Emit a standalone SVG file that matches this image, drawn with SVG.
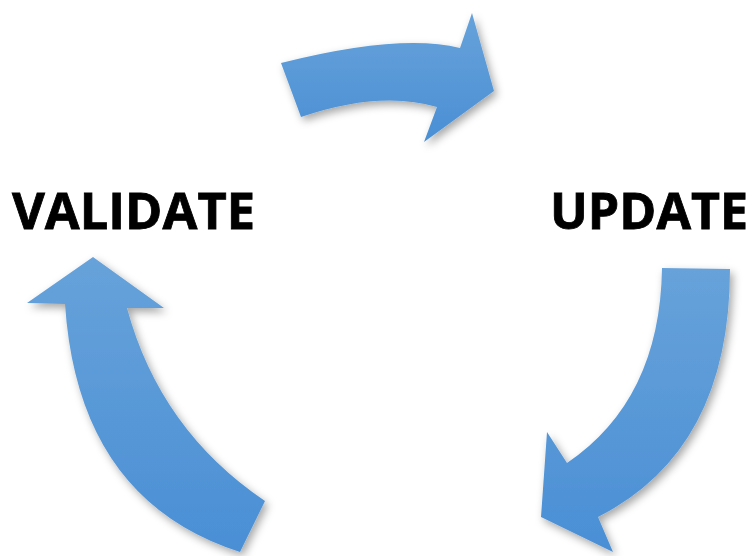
<svg xmlns="http://www.w3.org/2000/svg" width="755" height="556" viewBox="0 0 755 556">
  <style>
    .lbl { font-family: "Open Sans", "Liberation Sans", sans-serif; font-weight: 700; font-size: 51px; fill: #000; stroke: #000; stroke-width: 0.8; }
    .arrow { fill: url(#blue); filter: url(#shadow); }
  </style>
  <defs>
    <linearGradient id="blue" x1="0" y1="0" x2="0" y2="1">
      <stop offset="0" stop-color="#67a2da"/>
      <stop offset="1" stop-color="#4a8fd5"/>
    </linearGradient>
    <filter id="shadow" x="-20%" y="-20%" width="140%" height="140%">
      <feDropShadow dx="3" dy="4" stdDeviation="4" flood-color="#000" flood-opacity="0.35"/>
    </filter>
  </defs>
  <rect width="755" height="556" fill="#fff"/>
  <g id="connectors">
    <path id="arrow-top" class="arrow" d="M281,63 Q400,33 460,48 L472,13 L494,91 L424,142 L437,107 Q380,90 301,117 Z"/>
    <path id="arrow-right" class="arrow" d="M662,268 L730,269 Q730,450 598,517 L613,552 L541,517 L547,432 L567,463 Q660,400 662,268 Z"/>
    <path id="arrow-left" class="arrow" d="M93,257 L164,308 L127,308 Q160,430 265,501 L240,552 Q78,500 65,304 L27,303 Z"/>
  </g>
  <g id="validate">
    <text class="lbl" x="12" y="229" textLength="243" lengthAdjust="spacingAndGlyphs">VALIDATE</text>
  </g>
  <g id="update">
    <text class="lbl" x="550" y="229" textLength="198" lengthAdjust="spacingAndGlyphs">UPDATE</text>
  </g>
</svg>
